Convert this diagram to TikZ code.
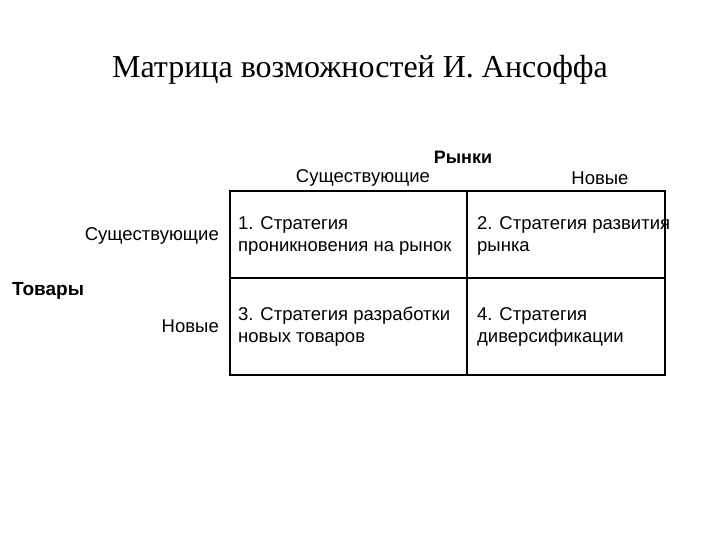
\documentclass[tikz,border=0pt]{standalone}
\usepackage{fontspec}
\setmainfont{Liberation Serif}
\newfontfamily\cellfont{Liberation Sans}
\begin{document}
\begin{tikzpicture}[x=1pt,y=-1pt,
  lbl/.style={font=\cellfont\fontsize{18.5}{22}\selectfont,inner sep=0pt},
  cell/.style={font=\cellfont\fontsize{18.5}{22}\selectfont,inner sep=0pt,align=left,anchor=north west},
  grid/.style={line width=1.6pt}]
\useasboundingbox (0,0) rectangle (720,540);
\node[font=\fontsize{32}{36}\selectfont,inner sep=0pt] (title) at (360,70) {Матрица возможностей И. Ансоффа};
\node[lbl,font=\cellfont\bfseries\fontsize{18}{22}\selectfont] (rynki) at (463,157) {Рынки};
\node[lbl] (ex) at (363,178) {Существующие};
\node[lbl] (nw) at (600,178) {Новые};
\node[lbl,anchor=east] (exl) at (219,236) {Существующие};
\node[lbl,font=\cellfont\bfseries\fontsize{19}{22}\selectfont,anchor=west] (tov) at (12,291) {Товары};
\node[lbl,anchor=east] (nwl) at (219,326) {Новые};
\draw[grid] (230,191) rectangle (665,375);
\draw[grid] (467,191) -- (467,375);
\draw[grid] (230,278) -- (665,278);
\node[cell] (c1) at (238,216) {1. Стратегия\\проникновения на рынок};
\node[cell] (c2) at (477,216) {2. Стратегия развития\\рынка};
\node[cell] (c3) at (238,307) {3. Стратегия разработки\\новых товаров};
\node[cell] (c4) at (477,307) {4. Стратегия\\диверсификации};
\end{tikzpicture}
\end{document}
